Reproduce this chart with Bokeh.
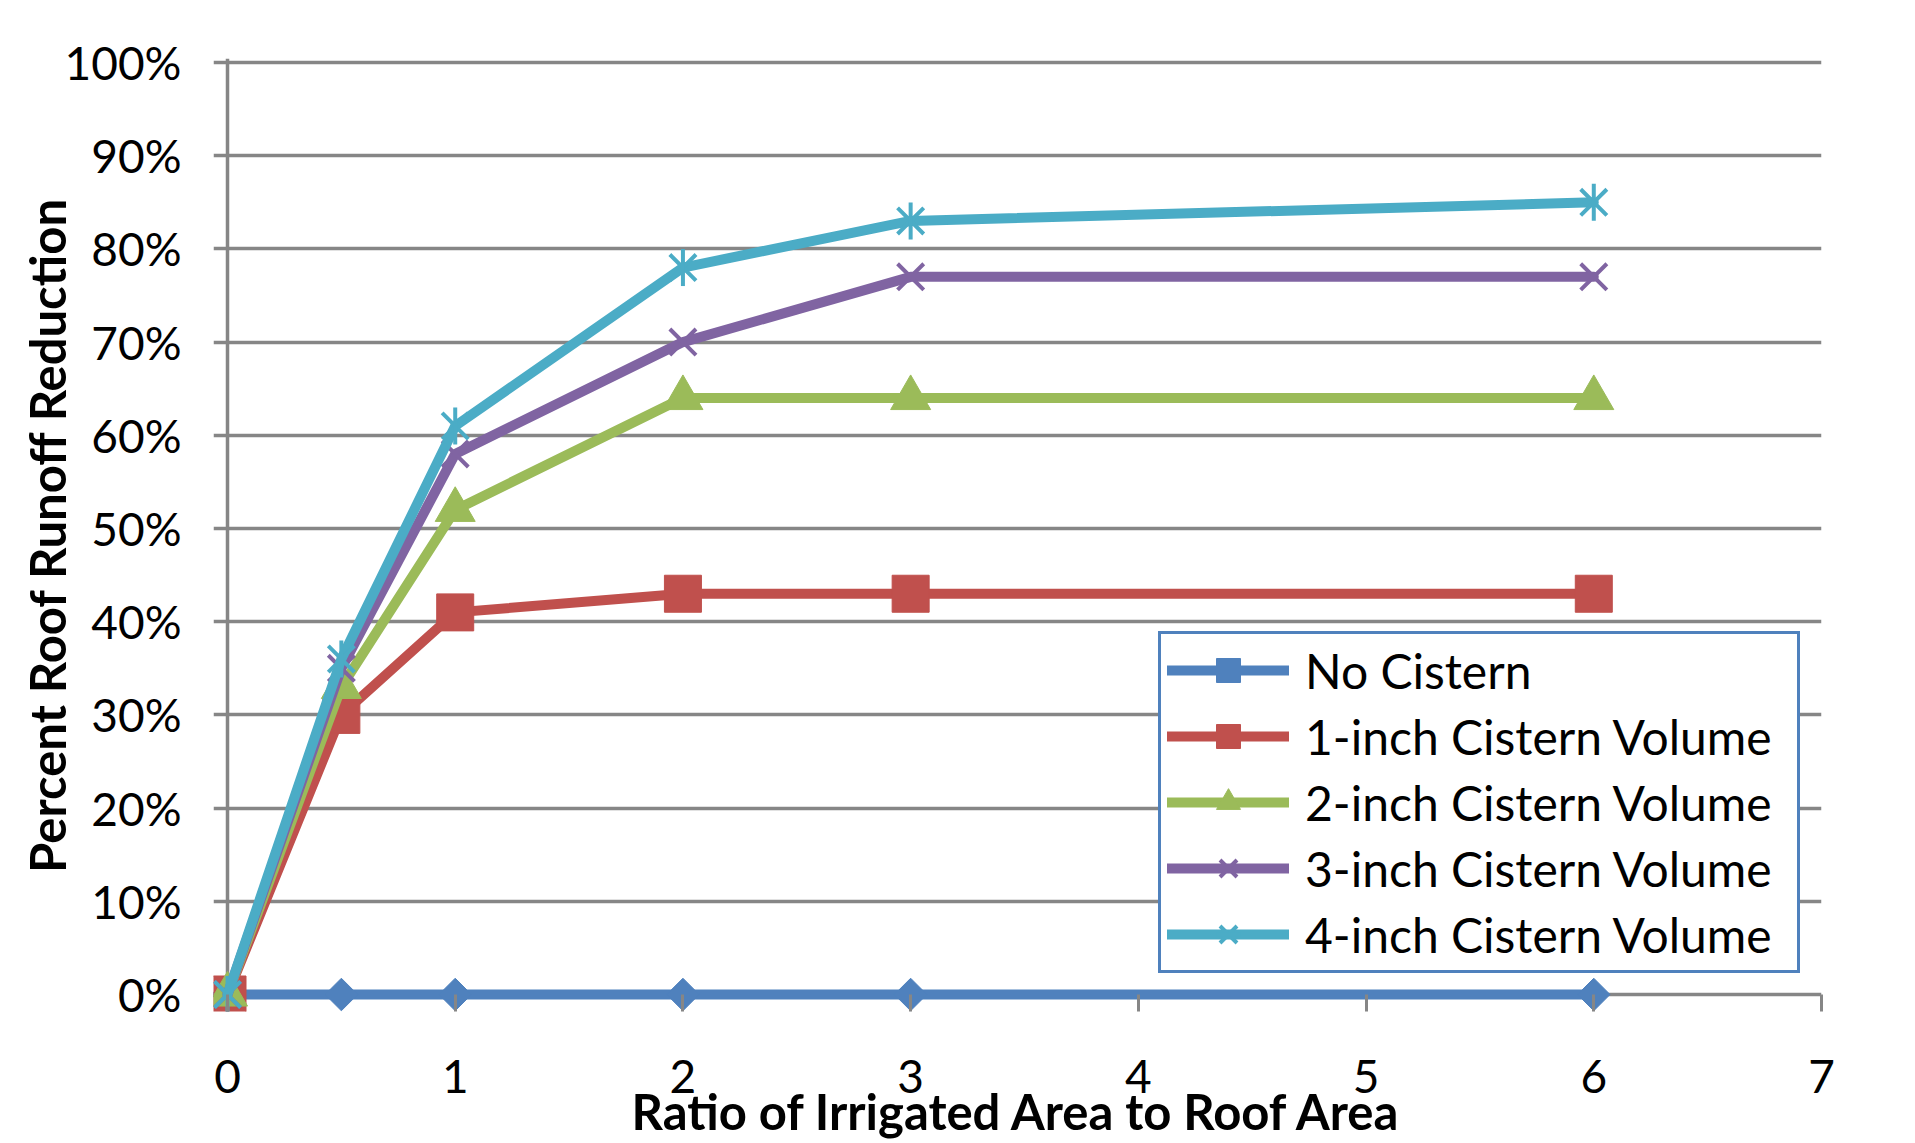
import math
from bokeh.plotting import figure
from bokeh.models import Range1d, FixedTicker, PrintfTickFormatter, Span
from bokeh.embed import file_html
from bokeh.resources import INLINE

# ---- data ----
x_ratio = [0, 0.5, 1, 2, 3, 6]
no_cistern = [0, 0, 0, 0, 0, 0]
cistern_1in = [0, 30, 41, 43, 43, 43]
cistern_2in = [0, 33, 52, 64, 64, 64]
cistern_3in = [0, 35, 58, 70, 77, 77]
cistern_4in = [0, 36, 61, 78, 83, 85]
series_names = ["No Cistern", "1-inch Cistern Volume", "2-inch Cistern Volume",
                "3-inch Cistern Volume", "4-inch Cistern Volume"]
x_ticks = [0, 1, 2, 3, 4, 5, 6, 7]
y_ticks = [0, 10, 20, 30, 40, 50, 60, 70, 80, 90, 100]
x_title = "Ratio of Irrigated Area to Roof Area"
y_title = "Percent Roof Runoff Reduction"

colors = ["#4F81BD", "#C0504D", "#9BBB59", "#8064A2", "#4BACC6"]
FONT = "Lato"
GRID = "#868686"

p = figure(width=1915, height=1143, output_backend="svg", toolbar_location=None,
           x_range=Range1d(-0.0615, 7), y_range=Range1d(-1.824, 100.43),
           min_border_left=213, min_border_right=94, min_border_top=58,
           min_border_bottom=132)
p.outline_line_color = None
p.background_fill_color = "white"
p.border_fill_color = "white"

# axes (sit on the frame edges; the visible axis line at x=0 is a Span)
for ax in (p.xaxis, p.yaxis):
    ax.axis_line_color = None
    ax.major_tick_line_color = GRID
    ax.major_tick_line_width = 3
    ax.minor_tick_line_color = None
    ax.major_label_text_font = FONT
    ax.major_label_text_font_size = "46px"
    ax.major_label_text_color = "black"
    ax.axis_label_text_font = FONT
    ax.axis_label_text_font_style = "bold"
    ax.axis_label_text_font_size = "49px"
    ax.axis_label_text_color = "black"

p.xaxis.ticker = FixedTicker(ticks=x_ticks)
p.yaxis.ticker = FixedTicker(ticks=y_ticks)
p.yaxis.formatter = PrintfTickFormatter(format="%d%%")

p.yaxis.major_tick_out = 0
p.yaxis.major_tick_in = 0
p.yaxis.major_label_standoff = 32
p.yaxis.axis_label = y_title
p.yaxis.axis_label_standoff = -14

p.xaxis.major_tick_out = 0
p.xaxis.major_tick_in = 17
p.xaxis.major_label_standoff = 48
p.xaxis.axis_label = x_title
p.xaxis.axis_label_standoff = -14

p.xgrid.visible = False
p.ygrid.ticker = FixedTicker(ticks=y_ticks)
p.ygrid.grid_line_color = GRID
p.ygrid.grid_line_width = 3.5

yaxis_line = Span(location=0, dimension="height", line_color=GRID,
                  line_width=3.5, level="underlay")
p.add_layout(yaxis_line)

series = [no_cistern, cistern_1in, cistern_2in, cistern_3in, cistern_4in]

for name, ys, c in zip(series_names, series, colors):
    p.line(x_ratio, ys, line_color=c, line_width=10, line_join="round",
           line_cap="round", legend_label=name)
    if name == "No Cistern":
        p.scatter(x_ratio, ys, marker="square", angle=math.pi / 4, size=23,
                  fill_color=c, line_color=c, line_width=1, legend_label=name)
    elif name.startswith("1-inch"):
        p.scatter(x_ratio, ys, marker="square", size=37,
                  fill_color=c, line_color=c, line_width=1, legend_label=name)
    elif name.startswith("2-inch"):
        p.scatter(x_ratio, ys, marker="triangle", size=40,
                  fill_color=c, line_color=c, line_width=1, legend_label=name)
    elif name.startswith("3-inch"):
        p.scatter(x_ratio, ys, marker="x", size=37,
                  line_color=c, line_width=4, legend_label=name)
    else:
        p.scatter(x_ratio, ys, marker="x", size=37,
                  line_color=c, line_width=4, legend_label=name)
        p.scatter(x_ratio, ys, marker="dash", angle=math.pi / 2, size=37,
                  line_color=c, line_width=4, legend_label=name)

lg = p.legend[0]
lg.location = (945, 38)
lg.label_text_font = FONT
lg.label_text_font_size = "48px"
lg.label_text_color = "black"
lg.glyph_width = 122
lg.glyph_height = 60
lg.label_height = 60
lg.label_width = 486
lg.spacing = 6
lg.padding = 6
lg.margin = 0
lg.label_standoff = 16
lg.border_line_color = "#4F81BD"
lg.border_line_alpha = 1.0
lg.border_line_width = 3
lg.background_fill_color = "white"
lg.background_fill_alpha = 1.0

open("out.html", "w").write(file_html(p, INLINE))
